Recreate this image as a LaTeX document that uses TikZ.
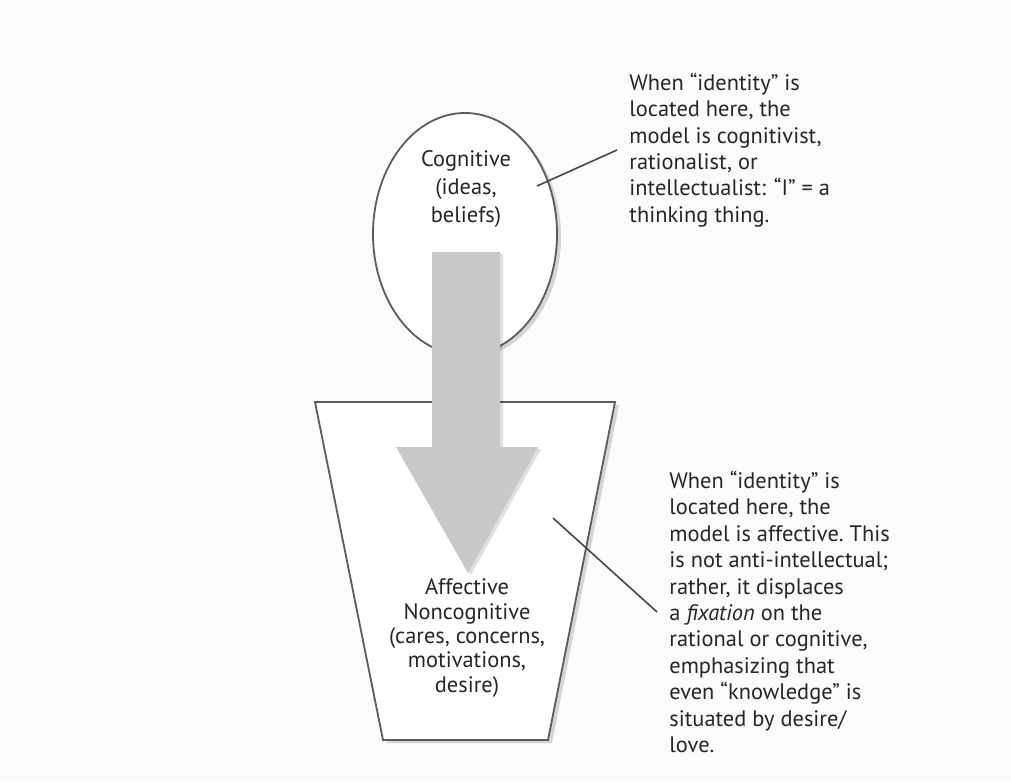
\documentclass[tikz,border=0pt]{standalone}
\usepackage{fontspec}
\setmainfont{PT Sans}
\usetikzlibrary{positioning,shadows,calc}
\definecolor{ink}{HTML}{262626}
\definecolor{arrowgray}{HTML}{C8C8C8}
\definecolor{paper}{HTML}{FBFBFB}
\tikzset{
  box/.style={draw=ink!75, line width=0.9pt, fill=white,
    drop shadow={shadow xshift=2pt, shadow yshift=-1.5pt, opacity=0.15, fill=black}},
  flowarrow/.style={fill=arrowgray,
    drop shadow={shadow xshift=1.5pt, shadow yshift=-1pt, opacity=0.12, fill=black}},
  inside/.style={align=center, text=ink, inner sep=0pt},
  note/.style={align=left, anchor=west, text=ink, inner xsep=6pt, inner ysep=0pt,
    font=\fontsize{11.2}{13.2}\selectfont},
  leader/.style={draw=ink!85, line width=0.8pt},
}
\begin{document}
\begin{tikzpicture}[x=0.5pt,y=-0.5pt]
  \useasboundingbox[fill=paper] (0,0) rectangle (1011,782);
  % the two places of identity
  \draw[box] (465,234) ellipse [x radius=46pt, y radius=60.5pt];
  \draw[box] (315,402) -- (615,402) -- (548,740) -- (383,740) -- cycle;
  % big arrow, head down
  \path[flowarrow] (432,252) -- (500,252) -- (500,447) -- (538,447)
    -- (468,573) -- (396,447) -- (432,447) -- cycle;
  \node[inside, font=\fontsize{11.2}{14.2}\selectfont] (cog) at (466,189)
    {Cognitive\\(ideas,\\beliefs)};
  \node[inside, font=\fontsize{11.2}{12.2}\selectfont] (aff) at (467,638)
    {Affective\\Noncognitive\\(cares, concerns,\\motivations,\\desire)};
  % notes on the right
  \node[note] (note1) at (617,150)
    {When ``identity'' is\\located here, the\\model is cognitivist,\\rationalist, or\\intellectualist: ``I'' = a\\thinking thing.};
  \node[note] (note2) at (657,612)
    {When ``identity'' is\\located here, the\\model is affective.\ This\\is not anti-intellectual;\\rather, it displaces\\a \textit{fixation} on the\\rational or cognitive,\\emphasizing that\\even ``knowledge'' is\\situated by desire/\\love.};
  \coordinate (cogpt) at (537,186);
  \coordinate (affpt) at (553,518);
  \draw[leader] (cogpt) -- (note1.west);
  \draw[leader] (affpt) -- (note2.west);
\end{tikzpicture}
\end{document}
